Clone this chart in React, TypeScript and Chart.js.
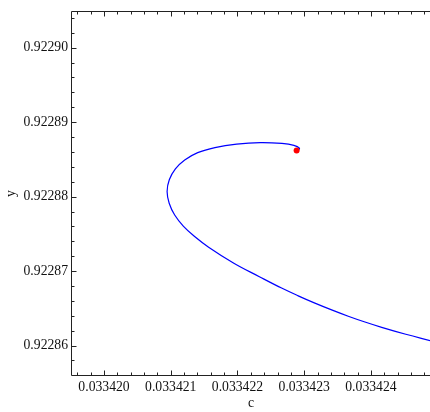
import React, { useEffect, useRef } from 'react';
import { Chart, registerables } from 'chart.js';

Chart.register(...registerables);

// Trajectory (c, y)
const curveC = [
  0.03342489, 0.0334245223, 0.0334241608, 0.0334239103, 0.0334236598, 0.0334234108,
  0.0334231603, 0.0334229099, 0.0334226609, 0.0334223279, 0.0334219454, 0.0334215674,
  0.0334213529, 0.0334211879, 0.0334210589, 0.0334209765, 0.033420945, 0.033420978,
  0.0334210694, 0.033421209, 0.033421404, 0.0334216619, 0.0334219874, 0.0334223429,
  0.0334226654, 0.0334228454, 0.0334229279, 0.0334229129,
];
const curveY = [
  0.92286067, 0.92286152, 0.92286245, 0.92286316, 0.92286394, 0.92286479,
  0.9228657, 0.92286668, 0.92286772, 0.92286925, 0.92287106, 0.92287321,
  0.92287468, 0.92287605, 0.92287753, 0.92287911, 0.92288069, 0.92288226,
  0.92288372, 0.92288492, 0.92288591, 0.92288659, 0.92288705, 0.92288725,
  0.92288714, 0.92288689, 0.92288652, 0.92288622,
];

// Fixed point (red dot)
const fixedC = [0.033422886];
const fixedY = [0.92288619];

// Axes
const xRange = [0.03341952, 0.033424885];
const yRange = [0.92285605, 0.92290479];
const xMajorTicks = [0.03342, 0.033421, 0.033422, 0.033423, 0.033424];
const xTickLabels = ['0.033420', '0.033421', '0.033422', '0.033423', '0.033424'];
const yMajorTicks = [0.92286, 0.92287, 0.92288, 0.92289, 0.9229];
const yTickLabels = ['0.92286', '0.92287', '0.92288', '0.92289', '0.92290'];
const minorPerMajor = 5;

const FONT_FAMILY = "'Liberation Serif', 'Times New Roman', serif";
const TEXT_COLOR = '#111';
const AXIS_COLOR = '#222';

function minorTicks(majors: number[], min: number, max: number): number[] {
  const step = (majors[1] - majors[0]) / minorPerMajor;
  const out: number[] = [];
  for (let k = -minorPerMajor * 2; k <= majors.length * minorPerMajor + minorPerMajor * 2; k++) {
    if (k % minorPerMajor === 0) continue;
    const v = majors[0] + k * step;
    if (v >= min && v <= max) out.push(v);
  }
  return out;
}

const framePlugin = {
  id: 'frameTicks',
  afterDraw(chart: any) {
    const { ctx, chartArea } = chart;
    const xs = chart.scales.x;
    const ys = chart.scales.y;
    const left = Math.round(chartArea.left) - 0.5;
    const top = Math.round(chartArea.top) - 0.5;
    const bottom = Math.round(chartArea.bottom) + 0.5;
    const right = chartArea.right;
    const majorLen = 5;
    const minorLen = 3;
    ctx.save();
    ctx.strokeStyle = AXIS_COLOR;
    ctx.lineWidth = 1;
    ctx.beginPath();
    ctx.moveTo(left, top);
    ctx.lineTo(left, bottom);
    ctx.moveTo(left, bottom);
    ctx.lineTo(right, bottom);
    ctx.moveTo(left, top);
    ctx.lineTo(right, top);

    const xTick = (v: number, len: number) => {
      const px = Math.round(xs.getPixelForValue(v)) + 0.5;
      if (px < left || px > right) return;
      ctx.moveTo(px, bottom);
      ctx.lineTo(px, bottom - len);
      ctx.moveTo(px, top);
      ctx.lineTo(px, top + len);
    };
    const yTick = (v: number, len: number) => {
      const py = Math.round(ys.getPixelForValue(v)) + 0.5;
      if (py < top || py > bottom) return;
      ctx.moveTo(left, py);
      ctx.lineTo(left + len, py);
    };
    xMajorTicks.forEach((v) => xTick(v, majorLen));
    minorTicks(xMajorTicks, xRange[0], xRange[1]).forEach((v) => xTick(v, minorLen));
    yMajorTicks.forEach((v) => yTick(v, majorLen));
    minorTicks(yMajorTicks, yRange[0], yRange[1]).forEach((v) => yTick(v, minorLen));
    ctx.stroke();
    ctx.restore();
  },
};

export default function App() {
  const ref = useRef<HTMLCanvasElement | null>(null);

  useEffect(() => {
    if (!ref.current) return;
    const font = { family: FONT_FAMILY, size: 13.7 };
    const chart = new Chart(ref.current, {
      type: 'scatter',
      data: {
        datasets: [
          {
            label: 'fixed point',
            data: fixedC.map((c, i) => ({ x: c, y: fixedY[i] })),
            showLine: false,
            pointRadius: 3,
            pointBackgroundColor: '#ff0000',
            pointBorderWidth: 0,
            backgroundColor: '#ff0000',
            borderColor: '#ff0000',
          },
          {
            label: 'trajectory',
            data: curveC.map((c, i) => ({ x: c, y: curveY[i] })),
            showLine: true,
            borderColor: '#0000ff',
            borderWidth: 1.2,
            pointRadius: 0,
            tension: 0.4,
            fill: false,
          },
        ],
      },
      options: {
        animation: false,
        responsive: false,
        devicePixelRatio: 1,
        layout: { autoPadding: false, padding: { top: 12, right: 0, left: 0, bottom: 0 } },
        plugins: {
          legend: { display: false },
          tooltip: { enabled: false },
        },
        scales: {
          x: {
            type: 'linear',
            position: 'bottom',
            min: xRange[0],
            max: xRange[1],
            grid: { display: false, drawTicks: false },
            border: { display: false },
            afterBuildTicks: (s: any) => {
              s.ticks = xMajorTicks.map((v) => ({ value: v }));
            },
            afterFit: (s: any) => {
              s.height = 37;
              s.paddingLeft = 0;
              s.paddingRight = 0;
            },
            ticks: {
              autoSkip: false,
              maxRotation: 0,
              padding: 4,
              color: TEXT_COLOR,
              font,
              callback: (_v: any, i: number) => xTickLabels[i],
            },
            title: {
              display: true,
              text: 'c',
              color: TEXT_COLOR,
              font,
              padding: { top: 0, bottom: 0 },
            },
          },
          y: {
            type: 'linear',
            position: 'left',
            min: yRange[0],
            max: yRange[1],
            grid: { display: false, drawTicks: false },
            border: { display: false },
            afterBuildTicks: (s: any) => {
              s.ticks = yMajorTicks.map((v) => ({ value: v }));
            },
            afterFit: (s: any) => {
              s.width = 72;
              s.paddingTop = 0;
              s.paddingBottom = 0;
            },
            ticks: {
              autoSkip: false,
              padding: 4,
              color: TEXT_COLOR,
              font,
              callback: (_v: any, i: number) => yTickLabels[i],
            },
            title: {
              display: true,
              text: 'y',
              color: TEXT_COLOR,
              font,
              padding: { top: 3, bottom: 0 },
            },
          },
        },
      },
      plugins: [framePlugin],
    } as any);
    return () => chart.destroy();
  }, []);

  return (
    <div style={{ position: 'absolute', left: 0, top: 0, width: 430, height: 412, background: '#fff' }}>
      <canvas ref={ref} width={430} height={412} style={{ display: 'block' }} />
    </div>
  );
}
